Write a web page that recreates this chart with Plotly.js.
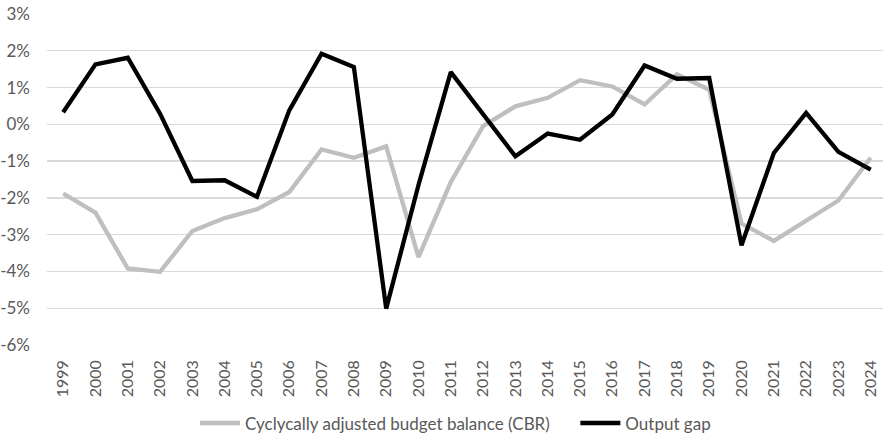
<!DOCTYPE html>
<html>
<head>
<meta charset="utf-8">
<script src="https://cdn.plot.ly/plotly-3.0.1.min.js"></script>
<style>html,body{margin:0;padding:0;background:#fff;}#chart{width:883px;height:436px;}</style>
</head>
<body>
<div id="chart"></div>
<script>
const years = ["1999","2000","2001","2002","2003","2004","2005","2006","2007","2008","2009","2010","2011","2012","2013","2014","2015","2016","2017","2018","2019","2020","2021","2022","2023","2024"];
const cbr = [-1.88,-2.40,-3.92,-4.01,-2.90,-2.55,-2.31,-1.84,-0.68,-0.91,-0.60,-3.61,-1.57,-0.05,0.49,0.72,1.20,1.03,0.54,1.36,0.94,-2.70,-3.17,-2.61,-2.07,-0.91];
const outputGap = [0.33,1.63,1.81,0.29,-1.54,-1.52,-1.97,0.38,1.92,1.56,-5.01,-1.65,1.42,0.27,-0.87,-0.25,-0.42,0.27,1.60,1.24,1.26,-3.29,-0.78,0.31,-0.75,-1.23];
const yTicks = [-6,-5,-4,-3,-2,-1,0,1,2,3];
const yTickText = ["-6%","-5%","-4%","-3%","-2%","-1%","0%","1%","2%","3%"];

const fontFam = "Lato, 'Open Sans', sans-serif";
const traces = [
  {x: years, y: cbr, type: 'scatter', mode: 'lines', name: 'Cyclycally adjusted budget balance (CBR)',
   line: {color: '#BFBFBF', width: 4.3, shape: 'linear'}, legend: 'legend'},
  {x: years, y: outputGap, type: 'scatter', mode: 'lines', name: 'Output gap',
   line: {color: '#000000', width: 4.3, shape: 'linear'}, legend: 'legend2'}
];
const legFont = {size: 17, color: '#595959', family: fontFam};
const layout = {
  width: 883, height: 436,
  margin: {l: 47, r: 0, t: 14, b: 91, autoexpand: false},
  paper_bgcolor: '#fff', plot_bgcolor: '#fff',
  font: {family: fontFam, color: '#595959', size: 16},
  showlegend: true,
  legend: {orientation: 'h', x: 0.177, xanchor: 'left', y: -0.237, yanchor: 'middle',
           font: legFont, itemwidth: 40, bgcolor: 'rgba(0,0,0,0)'},
  legend2: {orientation: 'h', x: 0.632, xanchor: 'left', y: -0.237, yanchor: 'middle',
           font: legFont, itemwidth: 40, bgcolor: 'rgba(0,0,0,0)'},
  xaxis: {type: 'category', range: [-0.5, 25.38], tickangle: -90, showgrid: false, zeroline: false,
          showline: false, ticks: '', tickfont: {size: 16, color: '#595959'}, ticklabelstandoff: 11, fixedrange: true},
  yaxis: {range: [-6, 3], tickvals: yTicks, ticktext: yTickText, showgrid: true, gridcolor: '#D9D9D9', gridwidth: 1.3,
          zeroline: false, showline: false, ticks: '', tickfont: {size: 17, color: '#595959'}, ticklabelstandoff: 16, fixedrange: true}
};
Plotly.newPlot('chart', traces, layout, {displayModeBar: false, staticPlot: true});
</script>
</body>
</html>
